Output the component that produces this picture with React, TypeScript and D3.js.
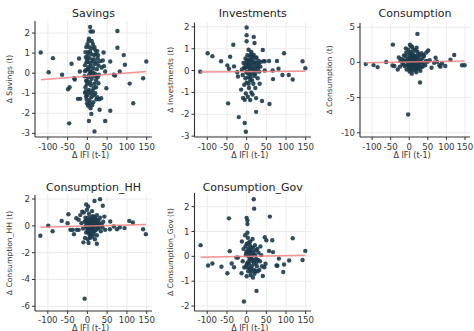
import * as d3 from 'd3';

type Pt = [number, number];

// Δ IFI (t-1) vs Δ outcome (t), one list per panel
const savings: Pt[] = [
  [-118, 1.03], [-98, 0.05], [-87, 0.75], [-64, -0.08], [-40, 0.47], [-49, -0.8], [-45, -0.7], [-46, -2.5],
  [-32, -0.32], [-33, -0.25], [-24, -1.28], [-18, -1.28], [-21, 0.73], [-19, 0.08], [7, 2.3], [8, 2.08],
  [14, 2.08], [76, 2.1], [76, 1.27], [41, 1.03], [39, 0.63], [42, 0.35], [45, 0.08], [58, 0.58],
  [67, -0.08], [70, -0.12], [82, 0.08], [92, 0.9], [95, 0.42], [107, -0.52], [116, -1.5], [141, -0.25],
  [149, 0.58], [58, -1.87], [45, -2.38], [18, -2.9], [4, -2.38], [10, -2.03], [31, -1.82], [30, -1.3],
  [23, -1.3], [35, -1.25], [48, -0.75],
  [0, 1.45], [3, 1.6], [-3, 1.3], [5, 1.3], [12, 1.25], [20, 1.15], [25, 1.1], [2, 1.05], [-5, 1.05],
  [10, 0.95], [17, 0.9], [-4, 0.8], [6, 0.75], [16, 0.7], [26, 0.75], [32, 0.6], [-2, 0.55], [8, 0.5],
  [19, 0.45], [28, 0.38], [-6, 0.4], [3, 0.3], [15, 0.25], [24, 0.2], [36, 0.28], [-4, 0.15], [8, 0.05],
  [19, -0.03], [29, -0.08], [2, -0.2], [11, -0.28], [22, -0.35], [-3, -0.38], [18, -0.53], [9, -0.6],
  [-5, -0.7], [22, -0.7], [4, -0.83], [13, -0.88], [-6, -0.98], [20, -1.0], [0, -1.1], [10, -1.2],
  [-3, -1.15], [5, -1.35], [-1, -1.5], [2, -1.62], [8, -1.75], [25, -1.2], [15, -1.45], [4, 1.72],
  [1, 0.9], [13, 0.6], [6, 0.15], [12, -0.1], [-1, -0.55], [16, -1.1], [3, -0.95], [26, -0.2],
  [-7, -0.15], [9, 0.35], [21, 0.95], [14, 1.45], [-2, -1.3], [6, -1.5], [28, -0.5],
  [1, 0.2], [7, -0.45], [14, 0.05], [18, 1.3], [-1, 0.7], [11, 1.6], [23, 0.55], [5, -0.05], [16, -0.75],
  [-4, -0.9], [9, -1.0], [3, 0.55], [27, 0.9], [12, -1.6], [20, -0.15], [0, -0.4], [7, 1.1], [-6, 0.1],
];

const investments: Pt[] = [
  [-118, -0.05], [-99, 0.79], [-87, 0.66], [-65, 0.43], [-49, 0.24], [-45, 0.08], [-34, 1.18], [-42, 0.63],
  [-32, 0.19], [-24, -0.08], [-22, -0.27], [-47, -1.5], [-20, -2.13], [-5, -2.4], [-2, -2.8], [0, 1.97],
  [0, 1.62], [0, 1.34], [18, 1.54], [20, 1.26], [41, 0.94], [43, 0.43], [46, 0.43], [24, -1.26],
  [39, -1.39], [24, -1.89], [58, -1.53], [57, 0.44], [46, 0], [67, -0.39], [66, 0], [77, 0.44],
  [81, 0.08], [95, 0.79], [91, -0.2], [107, -0.2], [117, -0.41], [142, 0.43], [149, 0.11],
  [5, 0.95], [12, 0.85], [2, 0.7], [9, 0.65], [18, 0.72], [25, 0.6], [-3, 0.55], [14, 0.55], [30, 0.45],
  [6, 0.42], [20, 0.38], [-8, 0.35], [1, 0.28], [11, 0.25], [27, 0.2], [35, 0.18], [-4, 0.12], [16, 0.1],
  [8, 0.05], [24, 0.0], [32, -0.05], [-1, -0.08], [13, -0.15], [20, -0.25], [4, -0.3], [-10, -0.2],
  [28, -0.35], [9, -0.45], [0, -0.55], [17, -0.6], [-6, -0.65], [6, -0.8], [22, -0.8], [-14, -0.87],
  [12, -1.0], [-2, -1.05], [3, -1.2], [-5, -1.34], [9, -1.35], [15, -1.1], [-9, -1.25], [19, 0.3],
  [3, 0.15], [10, 0.48], [23, 0.58], [-2, 0.3], [15, 0.4], [7, -0.15], [29, 0.1], [-12, 0.05],
  [36, 0.4], [33, -0.6],
  [4, 0.5], [8, 0.3], [12, 0.1], [16, 0.65], [21, 0.15], [26, 0.35], [2, -0.1], [6, 0.2], [10, -0.3],
  [14, -0.45], [18, -0.05], [0, 0.45], [-3, -0.35], [5, -0.6], [11, 0.75], [22, -0.15], [31, 0.3], [-6, 0.15],
];

const consumption: Pt[] = [
  [-117, -0.24], [-96, -0.38], [-85, -0.67], [-62, 0.05], [-44, 2.52], [-45, -0.43], [-40, -0.5], [-31, -1],
  [-24, 0.2], [-3, -7.4], [22, 4.05], [2, 2.5], [5, 2.3], [29, -2.86], [20, 2.1], [46, 1.4], [51, 1.7],
  [38, 1.05], [71, 0.67], [67, -0.05], [81, -0.4], [84, -0.6], [97, -0.5], [111, 0.38], [121, 1.05],
  [142, -0.4], [149, -0.4], [49, 0.1], [55, 0.3], [60, -0.75], [75, 0.1], [88, -0.15],
  [-15, 0.3], [-10, 0.9], [-8, 1.4], [-5, 0.5], [-3, 1.8], [0, 1.0], [2, 0.4], [4, 1.5], [6, 0.8],
  [8, -0.2], [10, 1.2], [12, 0.5], [14, -0.6], [16, 0.9], [18, 0.2], [20, -0.9], [22, 1.5], [24, 0.6],
  [26, -0.3], [28, 1.0], [30, 0.3], [32, -0.7], [35, 0.6], [38, -0.2], [40, 0.9], [-12, -0.5],
  [-7, -1.0], [-2, -0.3], [1, -1.3], [3, -0.8], [5, -0.1], [7, -1.6], [9, 0.1], [11, -1.1], [13, 0.2],
  [15, -0.4], [17, 1.7], [19, -1.4], [21, 0.0], [23, -0.5], [25, 1.2], [27, 0.1], [30, -1.2], [33, 1.3],
  [36, -0.6], [-18, -0.2], [-20, 0.5], [-14, 1.0], [-6, -0.4], [0, 0.2], [3, -0.5], [6, 0.3], [9, 0.7],
  [12, -0.3], [15, 0.6], [18, -0.8], [0, -0.9], [11, 1.8], [-9, 2.0], [8, 2.2], [43, -0.4], [45, 0.2],
  [-25, -0.6], [-28, 0.7],
  [1, 0.6], [4, 0.0], [7, 0.5], [10, -0.5], [13, 0.9], [16, 0.0], [19, 0.4], [22, -0.2], [25, -0.9],
  [-4, 0.2], [-1, -0.6], [2, 1.3], [5, -1.1], [8, 0.8], [14, 0.3], [20, 0.8], [28, -0.5], [-10, 0.2],
  [-16, -0.3], [34, 0.0], [17, -1.0], [4, -0.4], [11, 0.4], [6, -0.7],
];

const consumptionHH: Pt[] = [
  [-119, -0.74], [-99, 0.02], [-88, -0.4], [-65, 0.37], [-48, 0.86], [-50, 0.2], [-43, -0.3], [-37, -0.3],
  [-34, -0.62], [-27, -0.3], [-22, -0.3], [-7, -5.43], [-3, 1.6], [2, 1.45], [18, 1.85], [32, 1.98],
  [39, 1.5], [24, -1.33], [3, -1.28], [-10, -1.23], [43, 0.69], [58, 0.32], [57, -0.25], [67, -0.05],
  [75, -0.25], [82, -0.1], [94, -0.17], [106, 0.37], [115, 0.25], [141, -0.25], [148, -0.62],
  [-28, 0.57], [-22, 0.45],
  [-18, 0.8], [-13, 1.05], [-9, 1.0], [-5, 0.6], [-1, 1.2], [4, 0.9], [8, 0.5], [12, 1.1], [16, 0.7],
  [20, 0.3], [24, 0.8], [28, 0.4], [32, 0.6], [36, 0.1], [-15, 0.2], [-11, -0.2], [-7, 0.3], [-3, -0.5],
  [0, 0.1], [3, -0.2], [6, 0.2], [9, -0.6], [12, -0.1], [15, 0.4], [18, -0.4], [21, 0.0], [24, -0.7],
  [27, -0.2], [30, 0.2], [34, -0.4], [38, -0.1], [-6, -0.9], [1, -1.0], [7, -0.9], [13, -0.8], [19, -1.0],
  [2, 0.6], [10, 0.0], [5, -0.4], [-2, 0.4], [17, 0.1], [25, 0.2], [14, -0.3], [8, -0.1], [0, -0.3],
  [22, 0.5], [11, 0.3], [-4, 0.0], [40, 0.3], [45, -0.3],
  [1, 0.3], [4, 0.1], [7, 0.0], [10, 0.5], [13, 0.2], [16, -0.1], [19, 0.6], [22, -0.3], [26, 0.0],
  [3, 0.4], [6, -0.7], [9, 0.3], [12, 0.7], [15, -0.6], [-1, -0.1], [-4, 0.3], [18, 0.2], [29, -0.1],
  [2, -0.5], [11, -0.3],
];

const consumptionGov: Pt[] = [
  [-117, 0.45], [-98, -0.37], [-87, -0.29], [-64, -0.42], [-49, -0.68], [-43, 0.21], [-45, 1.53], [-38, -0.29],
  [-32, -0.44], [-26, -0.05], [-22, -0.05], [-7, -1.82], [18, 2.3], [19, 1.92], [0, 1.55], [2, 1.45],
  [2, 1.3], [25, -1.39], [41, -0.79], [59, 1.6], [46, 0.77], [50, 0.65], [65, 0.65], [57, 0.22],
  [67, 0.17], [82, -0.09], [76, -0.37], [78, -0.38], [93, -0.63], [95, -0.33], [108, -0.17], [117, 0.73],
  [142, -0.15], [149, 0.22],
  [-12, 0.6], [-8, 0.3], [-4, 0.85], [0, 0.5], [3, 0.75], [6, 0.2], [9, 0.6], [12, 0.35], [15, 0.7],
  [18, 0.1], [21, 0.45], [24, -0.1], [27, 0.3], [30, 0.15], [34, -0.2], [37, 0.05], [-10, -0.2],
  [-6, -0.45], [-2, 0.05], [1, -0.3], [4, -0.6], [7, -0.15], [10, -0.75], [13, -0.4], [16, -0.85],
  [19, -0.3], [22, -0.6], [26, -0.4], [29, -0.15], [32, -0.55], [-13, -0.68], [-3, 0.4], [2, 0.95],
  [5, 0.0], [8, 0.45], [11, -0.5], [14, 0.05], [17, 0.2], [20, -0.7], [0, -0.8], [-1, 0.15], [24, 0.25],
  [35, 0.4], [39, -0.4], [45, -0.44], [48, -0.3], [3, -0.25], [9, 0.15],
  [1, 0.2], [4, 0.3], [7, 0.05], [10, 0.25], [13, -0.1], [16, 0.35], [19, -0.55], [22, 0.05], [25, -0.25],
  [3, -0.45], [6, -0.3], [9, -0.1], [12, -0.6], [15, -0.2], [-2, -0.4], [5, 0.55], [11, 0.0], [18, -0.15],
  [28, -0.6], [8, -0.5],
];

// linear fit: [intercept, slope]
const savingsFit = [-0.145, 0.0015];
const investmentsFit = [-0.052, 0.00015];
const consumptionFit = [0.055, 0.0009];
const consumptionHHFit = [-0.01, 0.00075];
const consumptionGovFit = [0.0, 0.0003];

const xDomain = [-132.5, 163.5];
const xTicks = [-100, -50, 0, 50, 100, 150];

const panelNames = ['Savings', 'Investments', 'Consumption', 'Consumption_HH', 'Consumption_Gov'];
const yDomains = [[-3.18, 2.6], [-3.04, 2.2], [-10.6, 5.6], [-6.35, 2.3], [-2.2, 2.55]];
const yTicks = [
  [-3, -2, -1, 0, 1, 2],
  [-3, -2, -1, 0, 1, 2],
  [-10, -5, 0, 5],
  [-6, -4, -2, 0, 2],
  [-2, -1, 0, 1, 2],
];
const series = [savings, investments, consumption, consumptionHH, consumptionGov];
const fits = [savingsFit, investmentsFit, consumptionFit, consumptionHHFit, consumptionGovFit];

// pixel boxes of each plot area
const boxes = [
  { l: 35, r: 152, t: 21, b: 137, titleY: 17, ylabX: 12, tickDy: 12.5, xlabDy: 20.5 },
  { l: 194.5, r: 311, t: 22.5, b: 137, titleY: 17, ylabX: 173, tickDy: 12.5, xlabDy: 20.5 },
  { l: 360, r: 470, t: 23, b: 137, titleY: 17, ylabX: 332, tickDy: 12.5, xlabDy: 20.5 },
  { l: 35, r: 152, t: 195, b: 311, titleY: 191, ylabX: 12, tickDy: 11.5, xlabDy: 20 },
  { l: 194.5, r: 311, t: 193, b: 311, titleY: 191, ylabX: 173, tickDy: 11.5, xlabDy: 20 },
];

const FONT = '"DejaVu Sans", sans-serif';

function Panel({ i }: { i: number }) {
  const bx = boxes[i];
  const x = d3.scaleLinear().domain(xDomain).range([bx.l, bx.r]);
  const y = d3.scaleLinear().domain(yDomains[i]).range([bx.b, bx.t]);
  const pts = series[i];
  const [a, b] = fits[i];
  const ext = d3.extent(pts, d => d[0]) as [number, number];
  const line = d3.line<number>().x(v => x(v)).y(v => y(a + b * v));
  const cx = (bx.l + bx.r) / 2;
  const cy = (bx.t + bx.b) / 2;
  const name = panelNames[i];

  return (
    <g>
      {xTicks.map(t => (
        <line key={'gx' + t} x1={x(t)} x2={x(t)} y1={bx.t} y2={bx.b} stroke="#ebebeb" strokeWidth={1} />
      ))}
      {yTicks[i].map(t => (
        <line key={'gy' + t} x1={bx.l} x2={bx.r} y1={y(t)} y2={y(t)} stroke="#ebebeb" strokeWidth={1} />
      ))}
      {pts.map((d, k) => (
        <circle key={k} cx={x(d[0])} cy={y(d[1])} r={2.2} fill="#1c3a4a" fillOpacity={0.9} />
      ))}
      <path d={line(ext) || ''} fill="none" stroke="#f28080" strokeWidth={1.5} strokeOpacity={0.85} />
      <line x1={bx.l} x2={bx.l} y1={bx.t} y2={bx.b} stroke="#333" strokeWidth={1.1} />
      <line x1={bx.l} x2={bx.r} y1={bx.b} y2={bx.b} stroke="#333" strokeWidth={1.1} />
      {xTicks.map(t => (
        <g key={'tx' + t}>
          <line x1={x(t)} x2={x(t)} y1={bx.b} y2={bx.b + 3} stroke="#333" strokeWidth={1} />
          <text x={x(t)} y={bx.b + bx.tickDy} textAnchor="middle" fontSize={8.6} fill="#333" fontFamily={FONT}>{t}</text>
        </g>
      ))}
      {yTicks[i].map(t => (
        <g key={'ty' + t}>
          <line x1={bx.l - 3} x2={bx.l} y1={y(t)} y2={y(t)} stroke="#333" strokeWidth={1} />
          <text x={bx.l - 5} y={y(t)} dy="0.35em" textAnchor="end" fontSize={8.6} fill="#333" fontFamily={FONT}>{t}</text>
        </g>
      ))}
      <text x={cx} y={bx.titleY} textAnchor="middle" fontSize={11} fill="#222" fontFamily={FONT}>{name}</text>
      <text x={cx - 3} y={bx.b + bx.xlabDy} textAnchor="middle" fontSize={8} fill="#333" fontFamily={FONT}>Δ IFI (t-1)</text>
      <text transform={`translate(${bx.ylabX},${cy}) rotate(-90)`} textAnchor="middle" fontSize={7.6} fill="#333" fontFamily={FONT}>
        {`Δ ${name} (t)`}
      </text>
    </g>
  );
}

export default function App() {
  return (
    <svg width={474} height={331} style={{ position: 'absolute', left: 0, top: 0, background: '#fff' }}>
      {panelNames.map((_, i) => <Panel key={i} i={i} />)}
    </svg>
  );
}
